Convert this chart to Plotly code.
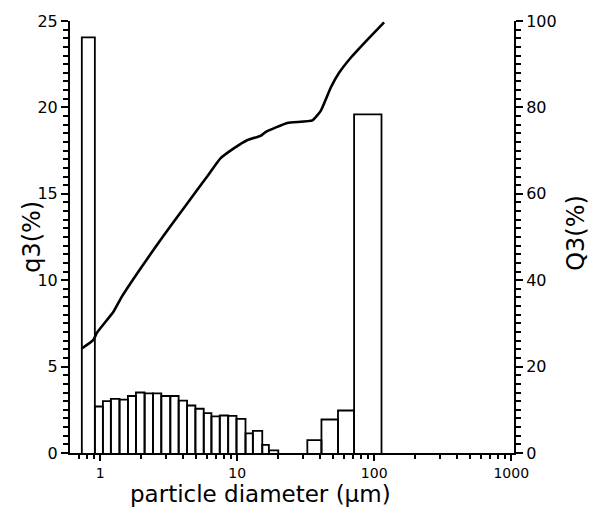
import plotly.graph_objects as go

# ---- data ----
# histogram q3 (%) : bin edges in micrometres and bar heights
bin_edges = [0.735, 0.915, 1.047, 1.197, 1.384, 1.594, 1.825, 2.110, 2.429, 2.794,
             3.251, 3.739, 4.308, 4.955, 5.700, 6.486, 7.460, 8.596, 9.883,
             11.50, 13.01, 15.24, 17.03, 19.95]
bin_heights = [24.05, 2.69, 3.00, 3.13, 3.09, 3.30, 3.50, 3.45, 3.45, 3.30,
               3.30, 3.03, 2.75, 2.56, 2.31, 2.12, 2.17, 2.15, 1.98,
               1.13, 1.28, 0.47, 0.15]

coarse_edges = [32.5, 41.2, 54.4, 71.3, 113.0]
coarse_heights = [0.74, 1.94, 2.46, 19.6]

# cumulative Q3 (%)
cum_d = [0.735, 0.893, 0.946, 1.25, 1.44, 1.96, 2.90, 3.85, 5.10, 6.04, 7.55,
         9.44, 11.8, 14.8, 16.1, 23.2, 35.4, 40.7, 48.2, 55.4, 67.4, 89.3, 118.0]
cum_Q3 = [24.2, 26.2, 27.8, 32.7, 36.2, 42.6, 50.3, 55.6, 60.9, 64.0, 68.2,
          70.5, 72.4, 73.4, 74.3, 76.4, 77.0, 79.2, 84.6, 88.0, 91.5, 95.7, 99.7]

x_ticks = [1, 10, 100, 1000]
x_tick_text = ["1", "10", "100", "1000"]


def outline(edges, heights):
    xs, ys = [], []
    for i, h in enumerate(heights):
        l, r = edges[i], edges[i + 1]
        xs += [l, l, r, r, None]
        ys += [0, h, h, 0, None]
    return xs, ys


bx1, by1 = outline(bin_edges, bin_heights)
bx2, by2 = outline(coarse_edges, coarse_heights)

fig = go.Figure()
fig.add_trace(go.Scatter(x=bx1 + bx2, y=by1 + by2, mode="lines",
                         line=dict(color="black", width=1.8),
                         hoverinfo="skip", showlegend=False))
fig.add_trace(go.Scatter(x=cum_d, y=cum_Q3, mode="lines", yaxis="y2",
                         line=dict(color="black", width=2.6, shape="spline", smoothing=0.4),
                         showlegend=False))

font = dict(family="DejaVu Sans, Arial, sans-serif", color="black")

fig.update_layout(
    width=596, height=513,
    margin=dict(l=70, r=82, t=16, b=60),
    paper_bgcolor="white", plot_bgcolor="white",
    font=dict(**font, size=15),
    showlegend=False,
    xaxis=dict(type="log", range=[-0.22, 3.02],
               tickvals=x_ticks, ticktext=x_tick_text,
               ticks="outside", ticklen=6, tickwidth=2, tickcolor="black",
               minor=dict(ticks="outside", ticklen=4, tickwidth=1.5, tickcolor="black",
                          dtick="D1", showgrid=False),
               showline=True, linecolor="black", linewidth=2,
               showgrid=False, zeroline=False,
               tickfont=dict(size=14)),
    yaxis=dict(range=[0, 25], dtick=5, tick0=0,
               ticks="outside", ticklen=7, tickwidth=2, tickcolor="black",
               minor=dict(ticks="outside", ticklen=5, tickwidth=1.5, tickcolor="black",
                          dtick=0.5, showgrid=False),
               showline=True, linecolor="black", linewidth=2,
               showgrid=False, zeroline=False,
               tickfont=dict(size=16)),
    yaxis2=dict(range=[0, 100], dtick=20, tick0=0, overlaying="y", side="right",
                ticks="outside", ticklen=7, tickwidth=2, tickcolor="black",
                minor=dict(ticks="outside", ticklen=5, tickwidth=1.5, tickcolor="black",
                           dtick=2, showgrid=False),
                showline=True, linecolor="black", linewidth=2,
                showgrid=False, zeroline=False,
                tickfont=dict(size=16)),
    annotations=[
        dict(text="particle diameter (µm)", xref="paper", yref="paper",
             x=0.428, y=0, yshift=-41, xanchor="center", yanchor="middle",
             showarrow=False, font=dict(size=23)),
        dict(text="q3(%)", xref="paper", yref="paper",
             x=-0.086, y=0.5, xanchor="center", yanchor="middle", textangle=-90,
             showarrow=False, font=dict(size=24)),
        dict(text="Q3(%)", xref="paper", yref="paper",
             x=1.14, y=0.51, xanchor="center", yanchor="middle", textangle=-90,
             showarrow=False, font=dict(size=24)),
    ],
)

fig.write_html("out.html")
